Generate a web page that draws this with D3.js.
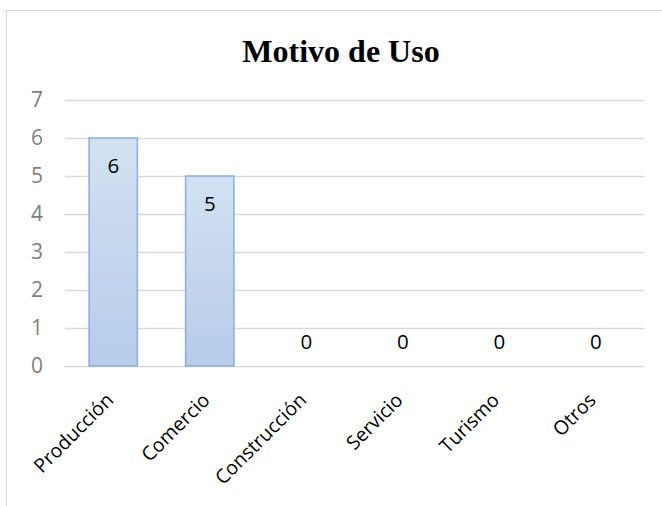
<!DOCTYPE html>
<html>
<head>
<meta charset="utf-8">
<script src="https://cdn.jsdelivr.net/npm/d3@7"></script>
<style>
  html, body { margin: 0; padding: 0; background: #fff; }
  svg { display: block; }
</style>
</head>
<body>
<svg id="chart" width="662" height="506"></svg>
<script>
// Motivo de Uso: count of responses per usage category
const categories = ["Producción", "Comercio", "Construcción", "Servicio", "Turismo", "Otros"];
const values = [6, 5, 0, 0, 0, 0];
const yTicks = [0, 1, 2, 3, 4, 5, 6, 7];
const chartTitle = "Motivo de Uso";

const svg = d3.select("#chart");
const W = 662, H = 506;
const margin = { left: 65, right: 18, top: 100, bottom: 140 };

// outer chart frame
svg.append("rect")
  .attr("x", 6.5).attr("y", 10.5)
  .attr("width", W + 20).attr("height", H + 20)
  .attr("fill", "#fff").attr("stroke", "#d9d9d9").attr("stroke-width", 1.2);

const x = d3.scaleBand()
  .domain(categories)
  .range([margin.left, W - margin.right])
  .paddingInner(0.5).paddingOuter(0.25);

const y = d3.scaleLinear().domain([0, 7]).range([H - margin.bottom, margin.top]);

// gradient for bar fill
const defs = svg.append("defs");
const grad = defs.append("linearGradient")
  .attr("id", "barGrad").attr("x1", 0).attr("y1", 0).attr("x2", 0).attr("y2", 1);
grad.append("stop").attr("offset", "0%").attr("stop-color", "#d3e1f2");
grad.append("stop").attr("offset", "100%").attr("stop-color", "#b6cce9");

// title
svg.append("text")
  .attr("x", 341).attr("y", 62)
  .attr("text-anchor", "middle")
  .attr("font-family", "'Liberation Serif', 'Times New Roman', serif")
  .attr("font-weight", "bold")
  .attr("font-size", 32)
  .attr("fill", "#000")
  .text(chartTitle);

// y axis with gridlines
const yAxis = d3.axisLeft(y)
  .tickValues(yTicks)
  .tickSize(-(W - margin.right - margin.left))
  .tickPadding(22)
  .tickFormat(d3.format("d"));

const gy = svg.append("g")
  .attr("transform", `translate(${margin.left},0)`)
  .call(yAxis);
gy.select(".domain").remove();
gy.selectAll(".tick line").attr("stroke", "#d9d9d9").attr("stroke-width", 1.3);
gy.selectAll(".tick text")
  .attr("font-family", "'Open Sans', sans-serif")
  .attr("font-size", 21)
  .attr("fill", "#7f7f7f");

// bars
svg.append("g").selectAll("rect")
  .data(categories.map((c, i) => ({ c, v: values[i] })))
  .join("rect")
  .filter(d => d.v > 0)
  .attr("x", d => x(d.c))
  .attr("y", d => y(d.v))
  .attr("width", x.bandwidth())
  .attr("height", d => y(0) - y(d.v))
  .attr("fill", "url(#barGrad)")
  .attr("stroke", "#8eb0dc")
  .attr("stroke-width", 1.6);

// data labels
svg.append("g").selectAll("text")
  .data(categories.map((c, i) => ({ c, v: values[i] })))
  .join("text")
  .attr("x", d => x(d.c) + x.bandwidth() / 2)
  .attr("y", d => d.v > 0 ? y(d.v) + 28 : y(0) - 24)
  .attr("dy", "0.35em")
  .attr("text-anchor", "middle")
  .attr("font-family", "'Open Sans', sans-serif")
  .attr("font-size", 20.5)
  .attr("fill", "#000")
  .text(d => d.v);

// category axis labels, rotated 45 degrees
const xAxis = d3.axisBottom(x).tickSize(0).tickPadding(0);
const gx = svg.append("g")
  .attr("transform", `translate(0,${y(0)})`)
  .call(xAxis);
gx.select(".domain").remove();
gx.selectAll(".tick text")
  .attr("font-family", "'Open Sans', sans-serif")
  .attr("font-size", 19.5)
  .attr("fill", "#000")
  .attr("text-anchor", "end")
  .attr("y", 0)
  .attr("dy", "0.75em")
  .attr("transform", "translate(-9,25) rotate(-45)");
</script>
</body>
</html>
